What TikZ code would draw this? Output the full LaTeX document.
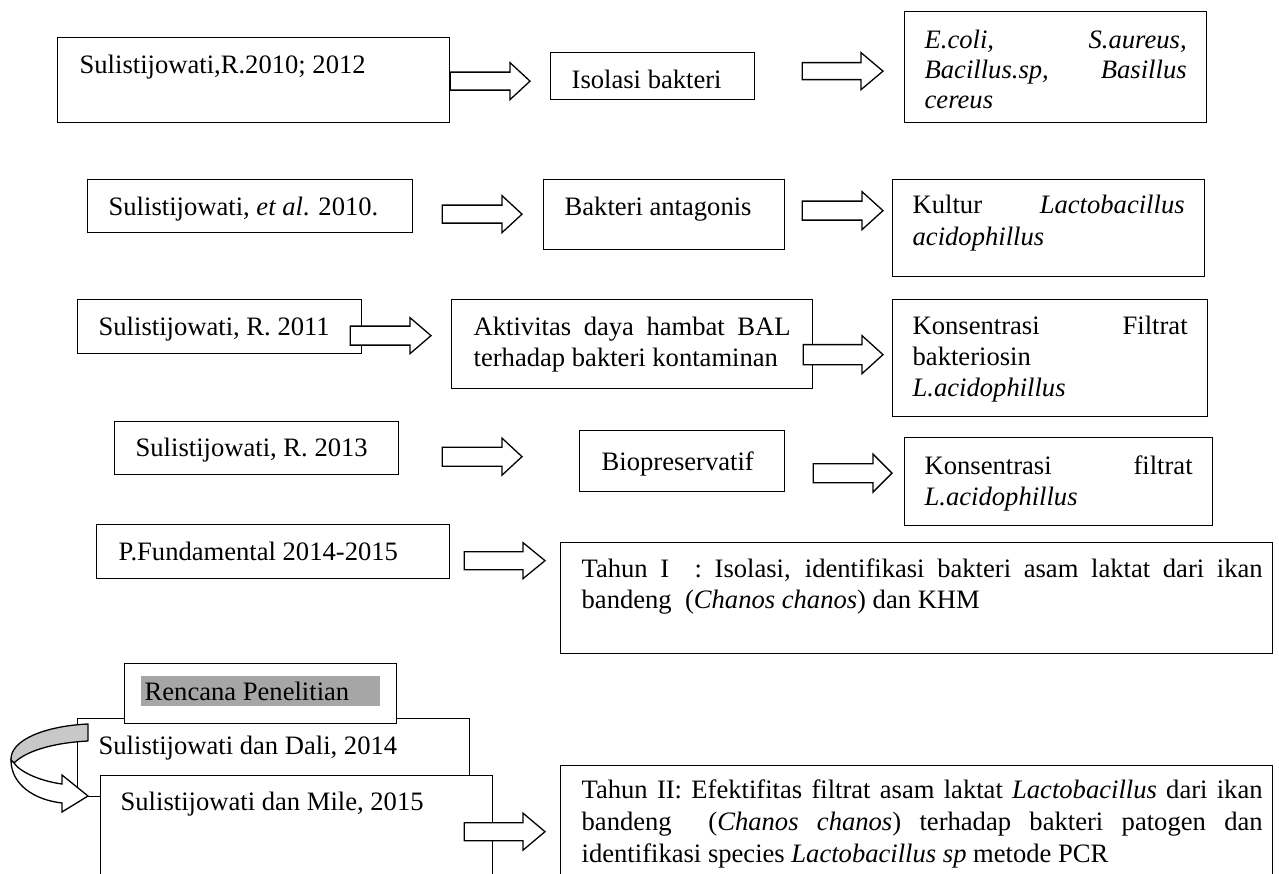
\documentclass[tikz,border=0pt]{standalone}
\usepackage{fontspec}
\setmainfont{Liberation Serif}
\usetikzlibrary{calc}
\definecolor{hlgray}{RGB}{166,166,166}
\definecolor{bandgray}{RGB}{200,200,200}
\newcommand\jl[1]{\makebox[\linewidth][s]{#1}}
\newcommand\jw[2]{\makebox[#1][s]{#2}}
\begin{document}
\begin{tikzpicture}[x=1pt,y=-1pt,
  font=\fontsize{26.6}{31}\selectfont,
  bx/.style={draw, line width=1.3pt, anchor=north west, inner ysep=0pt, align=justify},
  barrow/.style n args={3}{draw, fill=white, line width=1.3pt, line join=miter,
    to path={let \p1=(\tikztostart), \p2=(\tikztotarget) in
      (\x1,\y1+#1pt) -- (\x2-#3pt,\y1+#1pt) -- (\x2-#3pt,\y1+#2pt) -- (\x2,\y1)
      -- (\x2-#3pt,\y1-#2pt) -- (\x2-#3pt,\y1-#1pt) -- (\x1,\y1-#1pt) -- cycle}}]
\useasboundingbox (0,0) rectangle (1279,874);
\clip (0,0) rectangle (1279,874);

% row 1
\node[bx, text width=348pt, inner xsep=22pt, text height=36pt, text depth=49pt] (A) at (57,37) {Sulistijowati,R.2010; 2012};
\node[bx, text width=162pt, inner xsep=21pt, text height=36pt, text depth=11pt] (Iso) at (550,52) {Isolasi bakteri};
\node[bx, text width=262pt, inner xsep=20pt, text height=37pt, text depth=74pt, font=\fontsize{26.6}{30}\selectfont] (Ecoli) at (904,11) {\jl{\textit{E.coli,} \textit{S.aureus,}}\\ \jl{\textit{Bacillus.sp,} \textit{Basillus}}\\ \textit{cereus}};

% row 2
\node[bx, text width=283pt, inner xsep=21pt, text height=36pt, text depth=17pt] (B2) at (87,179) {Sulistijowati, \textit{et al}. 2010.};
\node[bx, text width=199pt, inner xsep=21pt, text height=36pt, text depth=34pt] (Bakt) at (543,179) {Bakteri antagonis};
\node[bx, text width=272pt, inner xsep=20pt, text height=34pt, text depth=63pt, font=\fontsize{26.6}{32}\selectfont] (Kult) at (892,179) {\jl{Kultur \textit{Lactobacillus}}\\ \textit{acidophillus}};

% row 3
\node[bx, text width=242pt, inner xsep=21pt, text height=36pt, text depth=18pt] (C) at (77,299) {Sulistijowati, R. 2011};
\node[bx, text width=317pt, inner xsep=22pt, text height=36pt, text depth=53pt] (Akt) at (451,299) {\jl{Aktivitas daya hambat BAL}\\ terhadap bakteri kontaminan};
\node[bx, text width=275pt, inner xsep=20pt, text height=35pt, text depth=82pt] (Kons) at (892,299) {\jl{Konsentrasi Filtrat}\\ bakteriosin\\ \textit{L.acidophillus}};

% row 4
\node[bx, text width=242pt, inner xsep=21pt, text height=35pt, text depth=18pt] (D) at (114,421) {Sulistijowati, R. 2013};
\node[bx, text width=161pt, inner xsep=22pt, text height=40pt, text depth=21pt] (Bio) at (579,430) {Biopreservatif};
\node[bx, text width=268pt, inner xsep=20pt, text height=37pt, text depth=51pt] (KF) at (904,437) {\jl{Konsentrasi filtrat}\\ \textit{L.acidophillus}};

% row 5
\node[bx, text width=309pt, inner xsep=22pt, text height=36pt, text depth=18pt] (E) at (96,524) {P.Fundamental 2014-2015};
\node[bx, text width=670pt, inner xsep=21pt, text height=35pt, text depth=76pt] (T1) at (560,542) {\jw{681pt}{Tahun I\ \ : Isolasi, identifikasi bakteri asam laktat dari ikan}\\ bandeng\ \ (\textit{Chanos chanos}) dan KHM};

% bottom group
\node[bx, text width=350pt, inner xsep=21pt, text height=36pt, text depth=42pt] (Dali) at (77,718) {Sulistijowati dan Dali, 2014};
\node[bx, fill=white, text width=240pt, inner xsep=16pt, text height=37pt, text depth=23pt] (Ren) at (124,663) {\setlength{\fboxsep}{0pt}\colorbox{hlgray}{\makebox[239pt][l]{\rule[-5pt]{0pt}{30pt}\hspace{4pt}Rencana Penelitian}}};
\node[bx, fill=white, text width=351.5pt, inner xsep=20.5pt, text height=35pt, text depth=95pt] (Mile) at (99.5,775) {Sulistijowati dan Mile, 2015};
\node[bx, text width=670pt, inner xsep=21pt, text height=33pt, text depth=97pt, font=\fontsize{26.6}{32}\selectfont] (T2) at (560,765) {\jw{681pt}{Tahun II: Efektifitas filtrat asam laktat \textit{Lactobacillus} dari ikan}\\ \jw{681pt}{bandeng\ \ (\textit{Chanos chanos}) terhadap bakteri patogen dan}\\ identifikasi species \textit{Lactobacillus sp} metode PCR};

% curved arrow Dali -> Mile
\draw[line width=1.3pt, fill=bandgray, line join=round] (88,724) .. controls (45,726) and (10,740) .. (11,760) -- (14,763) .. controls (25,752) and (50,743) .. (88,741) -- cycle;
\draw[line width=1.3pt, fill=white, line join=miter] (11,760) .. controls (11,785) and (35,800) .. (62,803) -- (62,812) -- (88,796) -- (62,775) -- (62,784) .. controls (40,781) and (20,772) .. (14,763) -- cycle;

% block arrows
\draw[barrow={9}{18.5}{20}] ($(A.east)+(0,1)$) to ($(Iso.west)+(-20,0)$);
\draw[barrow={8.5}{18.5}{22}] ($(Iso.east)+(47,-5)$) to ($(Ecoli.west)+(-21,0)$);
\draw[barrow={9}{18.5}{20}] ($(B2.east)+(29,8)$) to ($(Bakt.west)+(-21,0)$);
\draw[barrow={9.5}{19}{21}] ($(Bakt.east)+(17,-4)$) to ($(Kult.west)+(-9,0)$);
\draw[barrow={9.5}{18}{21}] ($(C.east)+(-12,9)$) to ($(Akt.west)+(-20,0)$);
\draw[barrow={10}{19}{21}] ($(Akt.east)+(-10,10.5)$) to ($(Kons.west)+(-9,0)$);
\draw[barrow={9.5}{18.5}{20}] ($(D.east)+(43,8.5)$) to ($(Bio.west)+(-57,0)$);
\draw[barrow={9.5}{19}{19}] ($(Bio.east)+(28,12)$) to ($(KF.west)+(-12,0)$);
\draw[barrow={9}{18}{22}] ($(E.east)+(14,9)$) to ($(T1.west)+(-15,0)$);
\draw[barrow={9}{18.5}{22}] ($(Mile.east)+(-29,-9)$) to ($(T2.west)+(-15,0)$);
\end{tikzpicture}
\end{document}
